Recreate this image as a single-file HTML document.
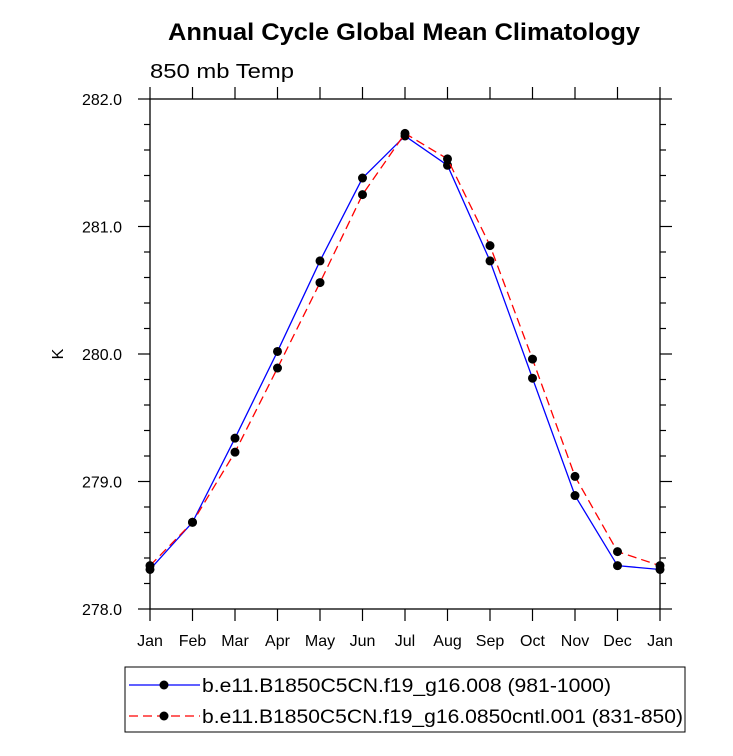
<!DOCTYPE html>
<html><head><meta charset="utf-8"><style>body{margin:0;background:#fff}svg{display:block;font-family:"Liberation Sans",sans-serif}</style></head>
<body>
<svg id="chart" width="733" height="756" xmlns="http://www.w3.org/2000/svg">
<text x="168" y="40" font-size="24" font-weight="bold" textLength="472" lengthAdjust="spacingAndGlyphs">Annual Cycle Global Mean Climatology</text>
<text x="150" y="78" font-size="20" textLength="144" lengthAdjust="spacingAndGlyphs">850 mb Temp</text>
<text x="63" y="354" font-size="16" text-anchor="middle" transform="rotate(-90 63 354)">K</text>
<g id="axes"></g><g id="series"></g>
<rect x="125" y="667" width="560" height="65" fill="none" stroke="#000" stroke-width="1"/>
<g>
<line x1="129" y1="685" x2="200" y2="685" stroke="#0000ff" stroke-width="1.3"/><circle cx="164" cy="685" r="4.5"/>
<text x="202" y="692" font-size="19" textLength="409" lengthAdjust="spacingAndGlyphs">b.e11.B1850C5CN.f19_g16.008 (981-1000)</text></g>
<g>
<line x1="129" y1="716" x2="200" y2="716" stroke="#ff0000" stroke-width="1.3" stroke-dasharray="9,5"/><circle cx="164" cy="716" r="4.5"/>
<text x="202" y="723" font-size="19" textLength="481" lengthAdjust="spacingAndGlyphs">b.e11.B1850C5CN.f19_g16.0850cntl.001 (831-850)</text></g>
</svg>
<script>
const months=["Jan","Feb","Mar","Apr","May","Jun","Jul","Aug","Sep","Oct","Nov","Dec","Jan"];
const blueVals=[278.31,278.68,279.34,280.02,280.73,281.38,281.71,281.48,280.73,279.81,278.89,278.34,278.31];
const redVals=[278.34,278.68,279.23,279.89,280.56,281.25,281.73,281.53,280.85,279.96,279.04,278.45,278.34];
const yTicks=[278.0,279.0,280.0,281.0,282.0];
const NS="http://www.w3.org/2000/svg";
const L=150,R=660,T=99,B=609,ymin=278,ymax=282;
const xs=i=>L+(R-L)*i/12, ys=v=>B-(v-ymin)/(ymax-ymin)*(B-T);
const ax=document.getElementById('axes'), se=document.getElementById('series');
function mk(t,a,p){const e=document.createElementNS(NS,t);for(const k in a)e.setAttribute(k,a[k]);p.appendChild(e);return e;}
const frame=mk('rect',{x:L,y:T,width:R-L,height:B-T,fill:'none',stroke:'#000','stroke-width':1.3},ax);


months.forEach((m,i)=>{const x=xs(i);
 mk('line',{x1:x,y1:B,x2:x,y2:B+12,stroke:'#000','stroke-width':1.2},ax);
 mk('line',{x1:x,y1:T,x2:x,y2:T-12,stroke:'#000','stroke-width':1.2},ax);
 const t=mk('text',{x:x,y:B+37,'text-anchor':'middle','font-size':16},ax);t.textContent=m;
 
 });
for(let v=ymin;v<=ymax+1e-9;v+=0.2){const y=ys(v);const maj=Math.abs(v-Math.round(v))<1e-6;const l=maj?12:6;
 mk('line',{x1:L,y1:y,x2:L-l,y2:y,stroke:'#000','stroke-width':1.2},ax);
 mk('line',{x1:R,y1:y,x2:R+l,y2:y,stroke:'#000','stroke-width':1.2},ax);}
yTicks.forEach(v=>{const t=mk('text',{x:L-28,y:ys(v)+6,'text-anchor':'end','font-size':16},ax);t.textContent=v.toFixed(1);
 
 });
function series(vals,color,dash,name){
 const pl=mk('polyline',{points:vals.map((v,i)=>xs(i)+','+ys(v)).join(' '),fill:'none',stroke:color,'stroke-width':1.3},se);
 if(dash)pl.setAttribute('stroke-dasharray',dash);
 
 
 vals.forEach((v,i)=>{const c=mk('circle',{cx:xs(i),cy:ys(v),r:4.5,fill:'#000'},se);
  
  });}
series(blueVals,'#0000ff',null,'blue-series');
series(redVals,'#ff0000','9,5','red-series');
</script>
</body></html>
